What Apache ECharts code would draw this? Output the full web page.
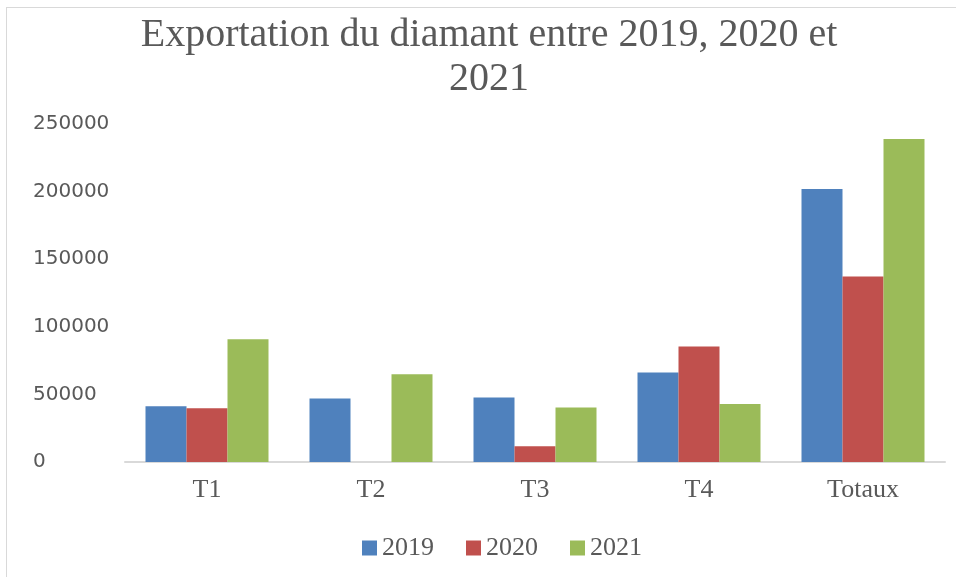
<!DOCTYPE html>
<html>
<head>
<meta charset="utf-8">
<script src="https://cdn.jsdelivr.net/npm/echarts@6/dist/echarts.min.js"></script>
<style>
  html, body { margin: 0; padding: 0; background: #fff; }
  #frame { position: absolute; left: 6px; top: 7px; width: 960px; height: 580px;
           border-left: 1px solid #d9d9d9; border-top: 1px solid #d9d9d9; }
  #chart { position: absolute; left: 0; top: 0; width: 956px; height: 577px; }
</style>
</head>
<body>
<div id="frame"></div>
<div id="chart"></div>
<script>
const CATEGORIES = ['T1', 'T2', 'T3', 'T4', 'Totaux'];
const Y2019 = [41200, 46900, 47700, 66200, 201900];
const Y2020 = [39700, 0, 11600, 85400, 137200];
const Y2021 = [90800, 64900, 40300, 42900, 238900];

const SERIF = '"Liberation Serif", "DejaVu Serif", serif';
const SANS = '"DejaVu Sans", sans-serif';
const TEXT = '#595959';

const c = echarts.init(document.getElementById('chart'), null, { renderer: 'canvas' });
c.setOption({
  animation: false,
  color: ['#4f81bd', '#c0504d', '#9bbb59'],
  title: {
    text: 'Exportation du diamant entre 2019, 2020 et\n2021',
    left: 484, top: 8, textAlign: 'center',
    textStyle: { fontFamily: SERIF, fontSize: 40, fontWeight: 'normal', color: TEXT, lineHeight: 44 },
  },
  legend: {
    left: 357, top: 530,
    itemWidth: 15, itemHeight: 15, itemGap: 32, icon: 'rect',
    textStyle: { fontFamily: SERIF, fontSize: 26, color: TEXT },
  },
  grid: { left: 125, right: 11, top: 124, bottom: 115, containLabel: false },
  xAxis: {
    type: 'category', data: CATEGORIES,
    axisLine: { lineStyle: { color: '#d9d9d9', width: 2 } },
    axisTick: { show: false },
    axisLabel: { fontFamily: SERIF, fontSize: 26, color: TEXT, margin: 15 },
  },
  yAxis: {
    type: 'value', min: 0, max: 250000, interval: 50000,
    axisLine: { show: false }, axisTick: { show: false },
    splitLine: { show: false },
    axisLabel: { fontFamily: SANS, fontSize: 20, color: TEXT, align: 'left', margin: 92, formatter: v => String(v) },
  },
  series: [
    { name: '2019', type: 'bar', data: Y2019, barGap: '0%', barCategoryGap: '25%' },
    { name: '2020', type: 'bar', data: Y2020, barGap: '0%', barCategoryGap: '25%' },
    { name: '2021', type: 'bar', data: Y2021, barGap: '0%', barCategoryGap: '25%' },
  ],
});
</script>
</body>
</html>
